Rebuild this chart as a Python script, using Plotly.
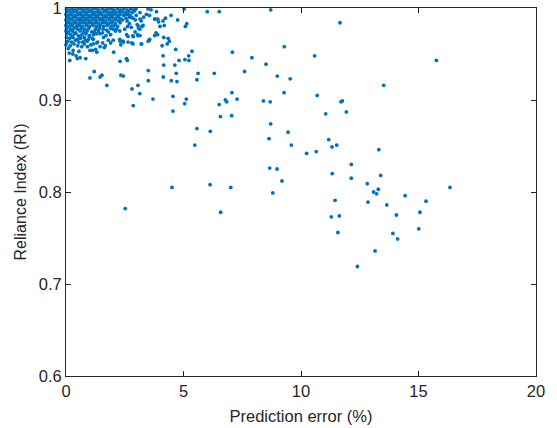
import plotly.graph_objects as go

# ---- dense cluster near (0-3 %, RI 0.95-1) ----
err_dense = [
    0.02,0.15,0.27,0.40,0.52,0.66,0.78,0.90,1.03,1.15,1.28,1.40,1.55,1.68,1.80,1.93,2.05,2.20,2.33,2.47,2.60,2.75,2.88,
    0.05,0.20,0.33,0.45,0.60,0.72,0.85,0.97,1.10,1.22,1.35,1.48,1.62,1.74,1.88,2.00,2.13,2.27,2.40,2.55,2.68,2.82,3.15,3.85,
    0.00,0.10,0.24,0.38,0.50,0.63,0.76,0.88,1.00,1.13,1.26,1.38,1.52,1.66,1.78,1.90,2.03,2.18,2.30,2.45,2.62,2.72,3.55,
    0.04,0.17,0.30,0.42,0.56,0.69,0.82,0.95,1.07,1.20,1.33,1.46,1.60,1.72,1.85,1.98,2.12,2.25,2.55,2.70,2.85,3.30,
    0.00,0.12,0.26,0.40,0.53,0.66,0.79,0.92,1.05,1.18,1.30,1.44,1.57,1.70,1.84,1.97,2.10,2.24,2.40,2.60,2.95,
    0.06,0.20,0.34,0.47,0.60,0.74,0.88,1.00,1.14,1.27,1.40,1.55,1.68,1.82,1.95,2.10,2.30,2.70,
    0.00,0.14,0.28,0.45,0.58,0.70,0.86,1.00,1.15,1.30,1.45,1.60,1.75,1.92,2.05,2.20,2.62,
    0.03,0.20,0.35,0.50,0.66,0.80,0.97,1.25,1.42,1.58,1.90,2.15,
    0.00,0.12,0.28,0.42,0.60,0.75,0.90,1.20,1.38,1.55,1.80,2.10,
    0.05,0.20,0.36,0.52,0.68,0.85,1.00,1.17,1.30,1.70,
    0.02,0.16,0.30,0.48,0.62,0.78,0.95,1.12,1.60,
    0.08,0.24,0.40,0.55,0.90,1.35,1.80,
    0.00,0.18,0.34,0.50,1.05,1.45,
    0.10,0.30,0.55,
]
ri_dense = [
    0.999,0.998,0.999,0.998,0.999,0.999,0.998,0.999,0.998,0.999,0.999,0.998,0.999,0.998,0.999,0.999,0.998,0.999,0.998,0.999,0.998,0.999,0.998,
    0.996,0.995,0.996,0.996,0.995,0.996,0.995,0.996,0.996,0.995,0.996,0.995,0.996,0.996,0.995,0.996,0.995,0.996,0.996,0.995,0.996,0.995,0.995,0.996,
    0.993,0.992,0.993,0.992,0.993,0.993,0.992,0.993,0.992,0.993,0.992,0.993,0.993,0.992,0.993,0.992,0.993,0.992,0.993,0.992,0.993,0.992,0.992,
    0.990,0.989,0.990,0.990,0.989,0.990,0.989,0.990,0.990,0.989,0.990,0.989,0.990,0.990,0.989,0.990,0.989,0.990,0.989,0.990,0.989,0.990,
    0.987,0.986,0.987,0.986,0.987,0.987,0.986,0.987,0.986,0.987,0.986,0.987,0.987,0.986,0.987,0.986,0.987,0.986,0.987,0.986,0.987,
    0.984,0.983,0.984,0.983,0.984,0.984,0.983,0.984,0.983,0.984,0.983,0.984,0.984,0.983,0.984,0.983,0.984,0.983,
    0.981,0.980,0.981,0.980,0.981,0.980,0.981,0.980,0.981,0.980,0.981,0.980,0.981,0.980,0.981,0.980,0.980,
    0.978,0.977,0.978,0.977,0.978,0.977,0.978,0.977,0.978,0.977,0.978,0.977,
    0.975,0.974,0.975,0.973,0.975,0.974,0.975,0.974,0.975,0.973,0.974,0.975,
    0.972,0.971,0.972,0.970,0.971,0.972,0.970,0.971,0.972,0.970,
    0.968,0.967,0.968,0.966,0.967,0.968,0.966,0.967,0.968,
    0.964,0.963,0.965,0.963,0.964,0.963,0.965,
    0.960,0.959,0.961,0.959,0.960,0.958,
    0.956,0.954,0.953,
]

# ---- fringe of the cluster ----
err_mid = [
    0.26,0.60,0.82,0.71,0.78,0.67,0.91,1.16,1.31,1.56,1.67,1.63,1.90,2.01,2.30,2.44,2.33,2.58,2.86,3.05,
    3.15,3.22,2.80,1.90,2.01,1.73,1.45,1.09,0.99,1.16,3.80,3.94,4.00,3.83,3.90,3.54,3.50,3.15,3.03,3.23,
    3.09,2.94,2.64,0.03,0.14,0.29,0.16,0.43,0.60,0.48,0.84,1.02,1.12,1.26,1.31,1.20,1.02,1.45,1.53,1.74,
    2.03,2.30,2.61,2.34,2.44,2.81,3.06,3.14,2.86,3.50,3.50,3.70,5.23,2.98,3.49,3.62,3.91,2.50,2.35,2.78,
    2.99,2.92,3.20,3.28,3.42,3.77,2.50,2.29,2.78,3.06,3.14,2.85,3.06,2.43,2.29,2.64,3.20,3.56,3.77,2.85,
    2.57,
]
ri_mid = [
    0.969,0.968,0.965,0.963,0.961,0.958,0.958,0.961,0.962,0.962,0.959,0.957,0.962,0.965,0.964,0.963,0.960,0.971,0.969,0.971,
    0.970,0.961,0.962,0.971,0.977,0.976,0.972,0.974,0.969,0.966,0.988,0.985,0.980,0.973,0.971,0.965,0.964,0.988,0.982,0.980,
    0.978,0.974,0.969,0.963,0.951,0.950,0.943,0.948,0.946,0.945,0.945,0.954,0.954,0.955,0.952,0.931,0.924,0.925,0.927,0.916,
    0.952,0.942,0.943,0.927,0.926,0.912,0.916,0.907,0.894,0.932,0.921,0.901,0.943,0.999,0.999,0.998,0.988,0.993,0.988,0.990,
    0.992,0.997,0.986,0.981,0.993,0.988,0.977,0.975,0.979,0.981,0.977,0.970,0.970,0.964,0.966,0.963,0.961,0.966,0.970,0.961,
    0.945,
]

# ---- scattered points ----
err_sparse = [
    5.03,6.01,6.52,8.71,11.66,4.47,4.23,4.13,4.75,4.18,5.14,5.08,4.16,4.35,4.40,4.31,4.09,4.67,5.36,7.08,
    9.29,10.58,4.13,5.22,5.06,4.81,7.91,8.51,4.16,4.63,7.60,4.69,5.62,6.31,8.99,9.54,4.14,5.57,4.48,4.72,
    7.06,9.28,10.69,4.55,5.12,5.05,6.78,6.84,7.28,8.40,8.69,6.52,11.76,11.70,4.55,11.93,11.05,6.57,7.05,8.71,
    5.57,6.14,9.45,8.64,11.18,15.76,13.52,5.48,9.59,10.24,8.67,8.98,9.19,4.51,6.13,7.01,8.80,2.52,6.58,10.65,
    11.32,11.52,13.31,12.14,11.33,12.14,13.39,12.82,13.29,13.09,13.22,16.34,14.43,11.45,12.85,15.32,13.65,14.06,15.06,11.29,
    11.63,15.01,11.57,13.91,14.11,13.15,12.40,
]
ri_sparse = [
    0.999,0.996,0.996,0.998,0.984,0.992,0.989,0.986,0.987,0.981,0.983,0.980,0.968,0.967,0.964,0.961,0.959,0.955,0.953,0.952,
    0.958,0.948,0.948,0.948,0.944,0.943,0.946,0.939,0.938,0.938,0.931,0.929,0.929,0.929,0.926,0.923,0.925,0.922,0.921,0.920,
    0.908,0.908,0.905,0.904,0.901,0.896,0.900,0.898,0.901,0.899,0.898,0.895,0.899,0.898,0.888,0.887,0.885,0.882,0.883,0.874,
    0.869,0.866,0.865,0.858,0.857,0.943,0.916,0.851,0.851,0.842,0.826,0.825,0.812,0.805,0.808,0.805,0.799,0.782,0.778,0.844,
    0.849,0.851,0.846,0.830,0.820,0.815,0.818,0.809,0.803,0.800,0.798,0.805,0.796,0.791,0.789,0.790,0.786,0.775,0.778,0.773,
    0.774,0.760,0.756,0.755,0.749,0.736,0.719,
]

x_ticks = [0, 5, 10, 15, 20]
y_ticks = [0.6, 0.7, 0.8, 0.9, 1.0]
y_tick_text = ["0.6", "0.7", "0.8", "0.9", "1"]

blue = "#0072BD"
axis_col = "#262626"
font_fam = "Liberation Sans, Arial, Helvetica, sans-serif"

fig = go.Figure()
fig.add_trace(go.Scatter(
    x=err_dense + err_mid + err_sparse,
    y=ri_dense + ri_mid + ri_sparse,
    mode="markers",
    marker=dict(size=3.8, color=blue, line=dict(width=0)),
    showlegend=False,
    hoverinfo="skip",
    cliponaxis=False,
))

fig.update_layout(
    width=557, height=428,
    margin=dict(l=66, r=21, t=8, b=52, pad=0, autoexpand=False),
    paper_bgcolor="white", plot_bgcolor="white",
    font=dict(family=font_fam, size=16, color=axis_col),
)
fig.update_xaxes(
    range=[0, 20], tickvals=x_ticks, ticktext=[str(v) for v in x_ticks],
    ticks="inside", ticklen=5, tickwidth=1, tickcolor=axis_col,
    showline=True, linecolor=axis_col, linewidth=1, mirror="ticks",
    showgrid=False, zeroline=False, ticklabeloverflow="allow", automargin=False,
    tickfont=dict(size=16.5, color=axis_col),
    title=dict(text="Prediction error (%)", font=dict(size=16.5, color=axis_col), standoff=11),
)
fig.update_yaxes(
    range=[0.6, 1.00001], tickvals=y_ticks, ticktext=y_tick_text,
    ticks="inside", ticklen=5, tickwidth=1, tickcolor=axis_col,
    showline=True, linecolor=axis_col, linewidth=1, mirror="ticks",
    showgrid=False, zeroline=False, ticklabeloverflow="allow", automargin=False,
    tickfont=dict(size=16.5, color=axis_col),
    title=dict(text="Reliance Index (RI)", font=dict(size=16, color=axis_col), standoff=8),
)

fig.write_html("out.html")
